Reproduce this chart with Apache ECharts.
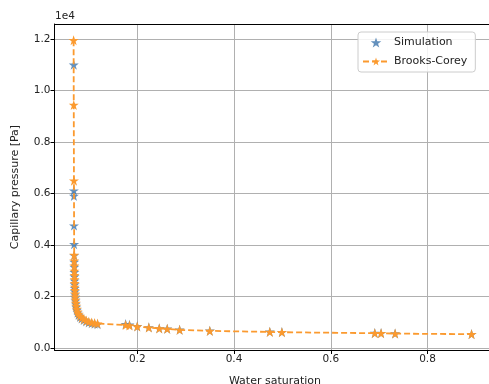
<!DOCTYPE html>
<html>
<head>
<meta charset="utf-8">
<script src="https://cdn.jsdelivr.net/npm/echarts@6/dist/echarts.min.js"></script>
<style>
  html, body {margin: 0; padding: 0; background: #fff;}
  #chart {width: 489px; height: 384px;}
</style>
</head>
<body>
<div id="chart"></div>
<script>
// simulated water saturation / capillary pressure
const simSw = [0.0688, 0.0690, 0.0691, 0.0693, 0.0695, 0.0697, 0.0698, 0.0700, 0.0701, 0.0703,
  0.0705, 0.0707, 0.0709, 0.0712, 0.0715, 0.0719, 0.0724, 0.0731, 0.0740, 0.0752,
  0.0768, 0.0790, 0.0818, 0.0852, 0.0895, 0.0945, 0.1000, 0.1060, 0.1120, 0.1180,
  0.176, 0.184, 0.200, 0.224, 0.2455, 0.262, 0.2876, 0.350, 0.474, 0.499,
  0.691, 0.704, 0.733, 0.891];
const simPc = [11000, 6115, 5909, 4757, 4035, 3600, 3350, 3150, 2950, 2780,
  2620, 2470, 2330, 2200, 2080, 1960, 1840, 1720, 1600, 1480,
  1380, 1290, 1210, 1150, 1090, 1040, 1000, 970, 950, 930,
  935, 910, 850, 810, 770, 755, 715, 675, 640, 625,
  590, 585, 570, 548];

// Brooks-Corey fit
const bcSw = [0.0685, 0.0688, 0.0692, 0.0697, 0.0698, 0.0700, 0.0702, 0.0703, 0.0705, 0.0707,
  0.0709, 0.0712, 0.0715, 0.0719, 0.0724, 0.0731, 0.0740, 0.0752, 0.0768, 0.0790,
  0.0818, 0.0852, 0.0895, 0.0945, 0.1000, 0.1060, 0.1120, 0.1180, 0.176, 0.184,
  0.200, 0.224, 0.2455, 0.262, 0.2876, 0.350, 0.474, 0.499, 0.691, 0.704,
  0.733, 0.891];
const bcPc = [11950, 9440, 6500, 3620, 3400, 3200, 3000, 2830, 2670, 2520,
  2380, 2250, 2120, 2000, 1880, 1760, 1640, 1520, 1420, 1330,
  1250, 1180, 1120, 1070, 1030, 1000, 975, 955, 900, 880,
  840, 800, 765, 750, 712, 672, 632, 620, 582, 580,
  567, 543];

const star = 'path://M50,0 L61.8,35.4 L99,35.4 L69,57.3 L80.3,92.7 L50,70.8 L19.7,92.7 L31,57.3 L1,35.4 L38.2,35.4 Z';
const font = 'DejaVu Sans';

const chart = echarts.init(document.getElementById('chart'));

let option = {
  animation: false,
  textStyle: {fontFamily: font},
  grid: {
    left: 54.5, top: 24, width: 441, height: 326,
    outerBoundsMode: 'none',
    containLabel: false,
    show: false
  },
  graphic: [{
    type: 'text', left: 55, top: 11,
    style: {text: '1e4', font: '10.5px "DejaVu Sans"', fill: '#222'}
  }],
  legend: {
    left: 358, top: 32,
    orient: 'vertical',
    padding: [5, 8, 5, 4],
    itemGap: 8,
    itemWidth: 26, itemHeight: 10,
    backgroundColor: 'rgba(255,255,255,0.85)',
    borderColor: '#cccccc', borderWidth: 1, borderRadius: 3,
    textStyle: {fontFamily: font, fontSize: 11, color: '#222'},
    data: ['Simulation', 'Brooks-Corey']
  },
  xAxis: [{
    type: 'value',
    min: 0.029, max: 0.9405,
    splitNumber: 5,
    name: 'Water saturation',
    nameLocation: 'middle',
    nameGap: 26,
    nameTextStyle: {fontFamily: font, fontSize: 11, color: '#222'},
    axisLine: {show: true, onZero: false, lineStyle: {color: '#000', width: 1}},
    axisTick: {show: true, length: 4, lineStyle: {color: '#000'}},
    axisLabel: {
      fontFamily: font, fontSize: 10.5, color: '#222', margin: 4,
      showMinLabel: false, showMaxLabel: false,
      formatter: v => v.toFixed(1)
    },
    splitLine: {show: true, showMaxLine: false, lineStyle: {color: '#b0b0b0', width: 1}}
  }, {
    // top spine
    type: 'value',
    position: 'top',
    min: 0.029, max: 0.9405,
    axisLine: {show: true, onZero: false, lineStyle: {color: '#000', width: 1}},
    axisTick: {show: false},
    axisLabel: {show: false},
    splitLine: {show: false}
  }],
  yAxis: {
    type: 'value',
    min: -70, max: 12580,
    splitNumber: 6,
    name: 'Capillary pressure [Pa]',
    nameLocation: 'middle',
    nameGap: 34,
    nameTextStyle: {fontFamily: font, fontSize: 11, color: '#222'},
    axisLine: {show: true, onZero: false, lineStyle: {color: '#000', width: 1}},
    axisTick: {show: true, length: 4, lineStyle: {color: '#000'}},
    axisLabel: {
      fontFamily: font, fontSize: 10.5, color: '#222', margin: 4,
      showMinLabel: false, showMaxLabel: false,
      formatter: v => (v / 10000).toFixed(1)
    },
    splitLine: {show: true, lineStyle: {color: '#b0b0b0', width: 1}}
  },
  series: [
    {
      name: 'Simulation',
      type: 'scatter',
      symbol: star,
      symbolSize: 10,
      itemStyle: {color: '#3d76ad'},
      data: simSw.map((x, i) => [x, simPc[i]])
    },
    {
      name: 'Brooks-Corey',
      type: 'line',
      symbol: star,
      symbolSize: 10,
      showAllSymbol: true,
      itemStyle: {color: '#fb9a2f'},
      lineStyle: {color: '#fb9a2f', width: 1.8, type: [6, 3]},
      data: bcSw.map((x, i) => [x, bcPc[i]])
    }
  ]
};
chart.setOption(option);
</script>
</body>
</html>
